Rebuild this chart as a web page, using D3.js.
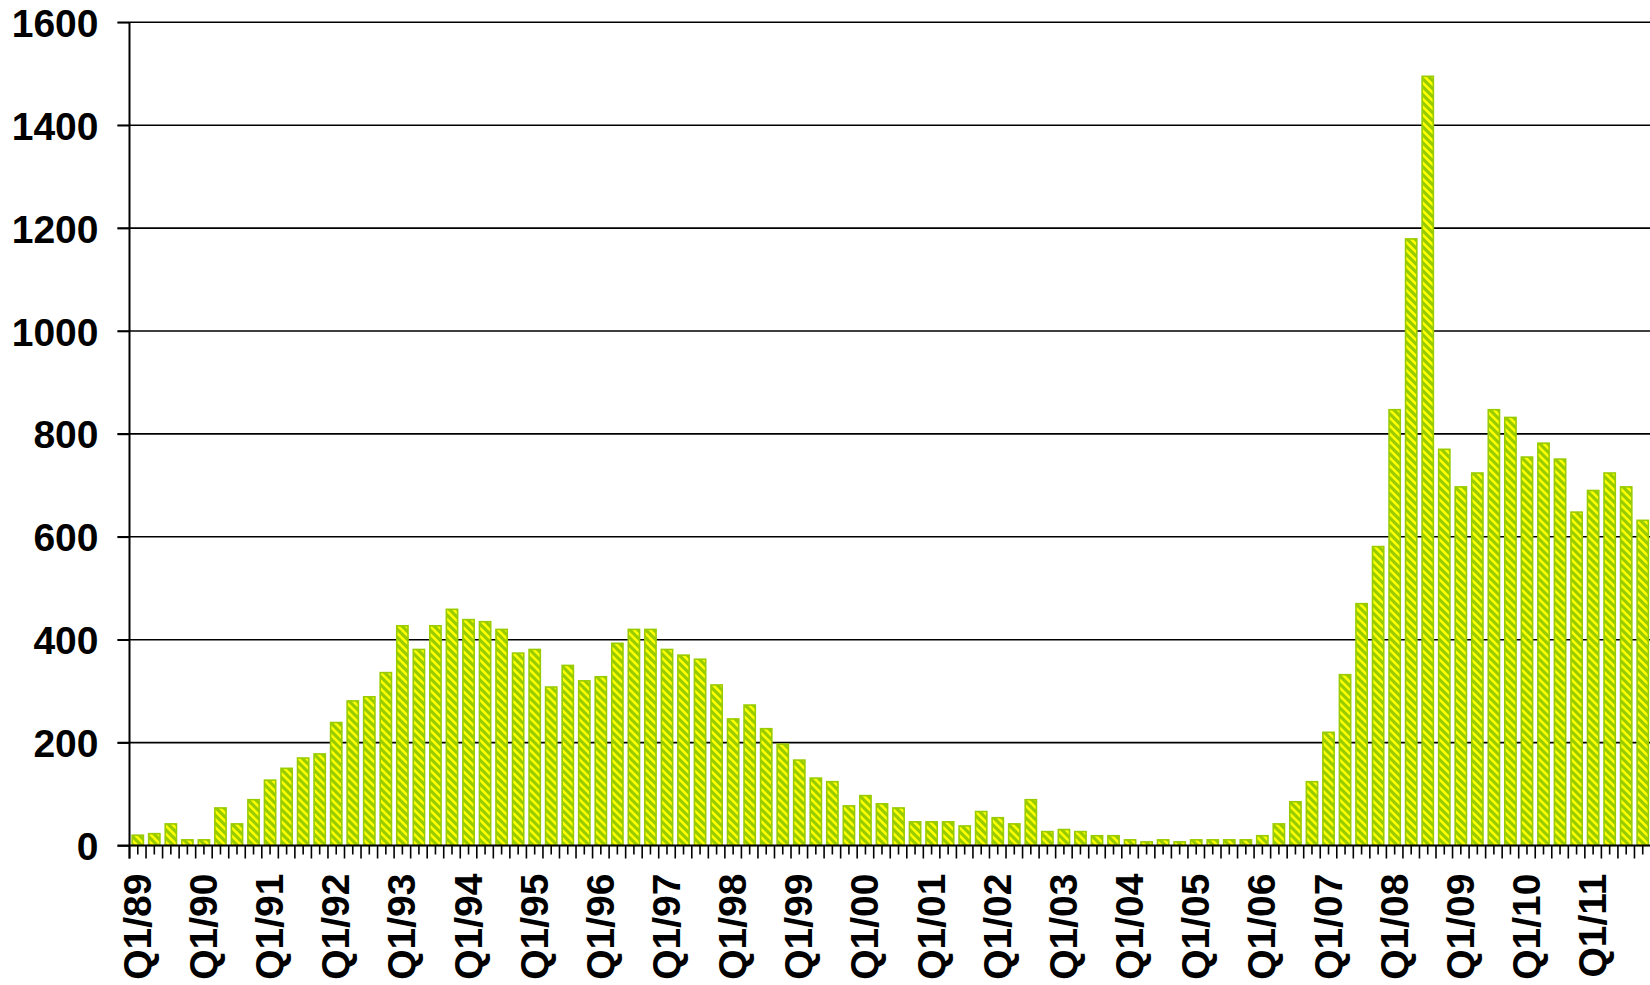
<!DOCTYPE html>
<html><head><meta charset="utf-8">
<script src="https://cdn.jsdelivr.net/npm/d3@7"></script>
<style>html,body{margin:0;padding:0;background:#fff;} svg{display:block;}</style>
</head><body>
<svg id="chart" width="1650" height="985"></svg>
<script>
// ---- data ----
const years = ["89","90","91","92","93","94","95","96","97","98","99","00","01","02","03","04","05","06","07","08","09","10","11"];
const quarters = ["Q1","Q2","Q3","Q4"];
const values = [
  20, 23, 42, 11,
  11, 73, 42, 89,
  127, 150, 170, 178,
  239, 281, 289, 336,
  427, 381, 427, 459,
  439, 435, 420, 374,
  381, 308, 350, 320,
  328, 393, 420, 420,
  381, 370, 362, 312,
  246, 273, 227, 197,
  166, 131, 124, 77,
  97, 81, 73, 46,
  46, 46, 38, 66,
  54, 42, 89, 27,
  31, 27, 19, 19,
  11, 7, 11, 7,
  11, 11, 11, 11,
  19, 42, 85, 124,
  220, 332, 470, 581,
  847, 1179, 1495, 770,
  697, 724, 847, 832,
  755, 782, 751, 648,
  690, 724, 697, 632
];
const yTicks = [0, 200, 400, 600, 800, 1000, 1200, 1400, 1600];
const categories = years.flatMap(yy => quarters.map(q => q + "/" + yy)).slice(0, values.length);
const data = categories.map((c, i) => ({cat: c, v: values[i]}));

// ---- layout ----
const W = 1650, H = 985;
const pLeft = 129.5, pRight = 1651, pTop = 22.3, pBottom = 845.5;
const FONT = "'Liberation Sans', Arial, Helvetica, sans-serif";

const svg = d3.select("#chart");
svg.append("rect").attr("width", W).attr("height", H).attr("fill", "#fff");

const x = d3.scaleBand().domain(categories).range([pLeft, pRight]).paddingInner(0.32).paddingOuter(0.16);
const y = d3.scaleLinear().domain([0, 1600]).range([pBottom, pTop]);

// pattern
const defs = svg.append("defs");
const pat = defs.append("pattern").attr("id", "stripes")
  .attr("patternUnits", "userSpaceOnUse").attr("width", 8).attr("height", 8);
pat.append("rect").attr("width", 8).attr("height", 8).attr("fill", "#FFFF00");
pat.append("path").attr("d", "M-2,-2L10,10M-2,6L2,10M6,-2L10,2")
  .attr("stroke", "#99CC00").attr("stroke-width", 3.1).attr("fill", "none");

// gridlines
svg.append("g").selectAll("line").data(yTicks.filter(v => v > 0)).join("line")
  .attr("x1", pLeft - 12).attr("x2", W)
  .attr("y1", d => y(d)).attr("y2", d => y(d))
  .attr("stroke", "#000").attr("stroke-width", 1.6);

// bars
svg.append("g").selectAll("rect").data(data).join("rect")
  .attr("x", d => x(d.cat))
  .attr("y", d => y(d.v))
  .attr("width", x.bandwidth())
  .attr("height", d => y(0) - y(d.v))
  .attr("fill", "url(#stripes)")
  .attr("stroke", "#99CC00")
  .attr("stroke-width", 1.6);

// y axis
const yAxis = d3.axisLeft(y).tickValues(yTicks).tickSize(12).tickPadding(19).tickFormat(d3.format("d"));
const gy = svg.append("g").attr("transform", `translate(${pLeft},0)`).call(yAxis);
gy.select(".domain").remove();
gy.selectAll(".tick line").attr("stroke", "#000").attr("stroke-width", 1.6);
gy.selectAll(".tick text").attr("font-family", FONT).attr("font-weight", "bold")
  .attr("font-size", 39).attr("fill", "#000").attr("dy", "0.36em");
svg.append("line").attr("x1", pLeft).attr("x2", pLeft).attr("y1", pTop).attr("y2", pBottom + 13)
  .attr("stroke", "#000").attr("stroke-width", 2);

// x axis baseline
svg.append("line").attr("x1", pLeft - 12).attr("x2", W).attr("y1", pBottom).attr("y2", pBottom)
  .attr("stroke", "#000").attr("stroke-width", 2.2);

// x ticks: tall at category boundaries, short at centers
const step = x.step();
const boundaries = d3.range(categories.length + 1).map(i => pLeft + i * step);
svg.append("g").selectAll("line").data(boundaries).join("line")
  .attr("x1", d => d).attr("x2", d => d)
  .attr("y1", pBottom).attr("y2", pBottom + 13)
  .attr("stroke", "#000").attr("stroke-width", 1.6);
svg.append("g").selectAll("line").data(categories).join("line")
  .attr("x1", d => x(d) + x.bandwidth() / 2).attr("x2", d => x(d) + x.bandwidth() / 2)
  .attr("y1", pBottom).attr("y2", pBottom + 9)
  .attr("stroke", "#000").attr("stroke-width", 1.6);

// x labels (Q1 only)
const xAxis = d3.axisBottom(x).tickValues(categories.filter(c => c.startsWith("Q1"))).tickSize(0).tickPadding(0);
const gx = svg.append("g").attr("transform", `translate(0,${pBottom})`).call(xAxis);
gx.select(".domain").remove();
gx.selectAll(".tick text")
  .attr("font-family", FONT).attr("font-weight", "bold").attr("font-size", 39).attr("fill", "#000")
  .attr("text-anchor", "end").attr("dy", null).attr("y", null)
  .attr("transform", "translate(13,28) rotate(-90)");
</script>
</body></html>
